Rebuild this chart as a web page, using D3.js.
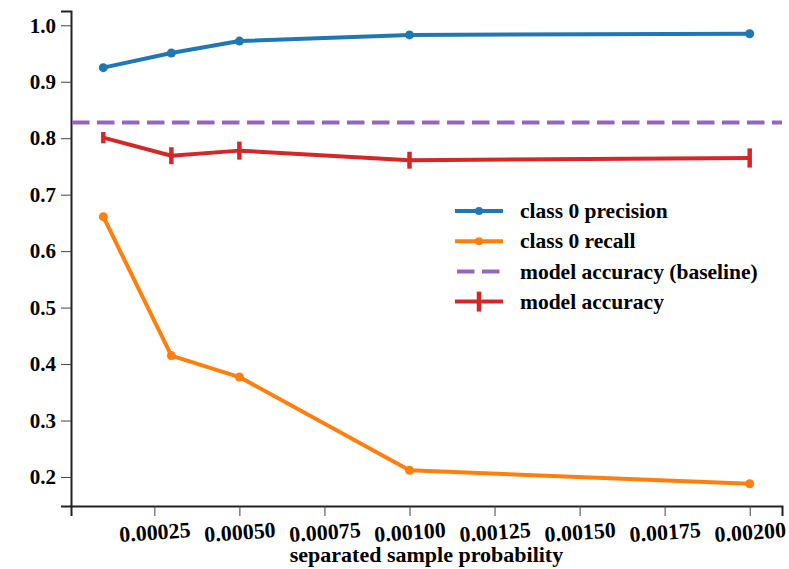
<!DOCTYPE html>
<html>
<head>
<meta charset="utf-8">
<script src="https://cdn.jsdelivr.net/npm/d3@7"></script>
<style>
  body { margin: 0; background: #fff; }
</style>
</head>
<body>
<script>
// data
var probs = [0.0001, 0.0003, 0.0005, 0.001, 0.002]
var precision = [0.925, 0.951, 0.972, 0.983, 0.985]
var recall = [0.661, 0.415, 0.377, 0.212, 0.188]
var accuracy = [0.801, 0.769, 0.778, 0.761, 0.765]
var accuracyErr = [0.010, 0.015, 0.016, 0.015, 0.017]
var baseline = 0.828
var xTicks = [0.00025, 0.0005, 0.00075, 0.001, 0.00125, 0.0015, 0.00175, 0.002]
var yTicks = [0.2, 0.3, 0.4, 0.5, 0.6, 0.7, 0.8, 0.9, 1.0]
var legendLabels = ['class 0 precision', 'class 0 recall', 'model accuracy (baseline)', 'model accuracy']
var colors = ['#1f77b4', '#ff7f0e', '#9467bd', '#d62728']

var FONT = '"Liberation Serif", "DejaVu Serif", "Times New Roman", serif'
var W = 789, H = 569
var margin = {top: 11, right: 7, bottom: 63, left: 71}

var svg = d3.select('body').append('svg')
  .attr('width', W)
  .attr('height', H)

let x = d3.scaleLinear()
  .domain([0.000005, 0.002095])
  .range([margin.left, W - margin.right])

let y = d3.scaleLinear()
  .domain([0.1486, 1.0253])
  .range([H - margin.bottom, margin.top])

// axes
var xAxis = svg.append('g')
  .attr('transform', 'translate(0,' + (H - margin.bottom) + ')')
  .call(d3.axisBottom(x).tickValues(xTicks).tickFormat(d3.format('.5f')).tickSize(10).tickPadding(8))
xAxis.attr('font-family', FONT).attr('font-size', 22).attr('font-weight', 'bold')
xAxis.selectAll('text')
  .attr('fill', '#000')
  .attr('transform', 'rotate(-4,0,26)')
xAxis.select('.domain').attr('stroke', '#222').attr('stroke-width', 2)
xAxis.selectAll('.tick line').attr('stroke', '#444')

var yAxis = svg.append('g')
  .attr('transform', 'translate(' + margin.left + ',0)')
  .call(d3.axisLeft(y).tickValues(yTicks).tickFormat(d3.format('.1f')).tickSize(10).tickPadding(5))
yAxis.attr('font-family', FONT).attr('font-size', 21).attr('font-weight', 'bold')
yAxis.selectAll('text').attr('fill', '#000')
yAxis.select('.domain').attr('stroke', '#222').attr('stroke-width', 2)
yAxis.selectAll('.tick line').attr('stroke', '#444')

// axis title
svg.append('text')
  .attr('x', (margin.left + W - margin.right) / 2)
  .attr('y', H - 7)
  .attr('text-anchor', 'middle')
  .attr('font-family', FONT)
  .attr('font-weight', 'bold')
  .attr('font-size', 22)
  .text('separated sample probability')

var line = d3.line()
  .x(function (d) { return x(d[0]) })
  .y(function (d) { return y(d[1]) })

// precision + recall lines with dots
;[precision, recall].forEach(function (vals, i) {
  var pts = probs.map(function (p, j) { return [p, vals[j]] })
  svg.append('path')
    .datum(pts)
    .attr('d', line)
    .attr('fill', 'none')
    .attr('stroke', colors[i])
    .attr('stroke-width', 4)
    .attr('stroke-linejoin', 'round')
  svg.selectAll('.dot' + i)
    .data(pts)
    .enter().append('circle')
    .attr('cx', function (d) { return x(d[0]) })
    .attr('cy', function (d) { return y(d[1]) })
    .attr('r', 4.5)
    .attr('fill', colors[i])
})

// baseline
svg.append('line')
  .attr('x1', margin.left + 1)
  .attr('x2', W - margin.right)
  .attr('y1', y(baseline))
  .attr('y2', y(baseline))
  .attr('stroke', colors[2])
  .attr('stroke-width', 4)
  .attr('stroke-dasharray', '17.5,7.5')

// accuracy with error bars
var accPts = probs.map(function (p, j) { return [p, accuracy[j], accuracyErr[j]] })
svg.append('path')
  .datum(accPts)
  .attr('d', line)
  .attr('fill', 'none')
  .attr('stroke', colors[3])
  .attr('stroke-width', 4)
  .attr('stroke-linejoin', 'round')
svg.selectAll('.err')
  .data(accPts)
  .enter().append('line')
  .attr('x1', function (d) { return x(d[0]) })
  .attr('x2', function (d) { return x(d[0]) })
  .attr('y1', function (d) { return y(d[1] - d[2]) })
  .attr('y2', function (d) { return y(d[1] + d[2]) })
  .attr('stroke', colors[3])
  .attr('stroke-width', 4.5)

// legend
var lg = svg.append('g').attr('transform', 'translate(455,211)')
  .attr('font-family', FONT).attr('font-weight', 'bold').attr('font-size', 21.5)
legendLabels.forEach(function (lab, i) {
  var row = lg.append('g').attr('transform', 'translate(0,' + (i * 30.2) + ')')
  var l = row.append('line')
    .attr('x1', 0).attr('x2', 48)
    .attr('stroke', colors[i])
    .attr('stroke-width', 4)
  if (i === 2) l.attr('stroke-dasharray', '17.5,7.5').attr('x1', 2)
  if (i < 2) row.append('circle').attr('cx', 24).attr('r', 4).attr('fill', colors[i])
  if (i === 3) {
    row.append('line').attr('x1', 24).attr('x2', 24).attr('y1', -10).attr('y2', 10)
      .attr('stroke', colors[i]).attr('stroke-width', 4.5)
  }
  row.append('text')
    .attr('x', 65)
    .attr('dy', '0.33em')
    .text(lab)
})
</script>
</body>
</html>
